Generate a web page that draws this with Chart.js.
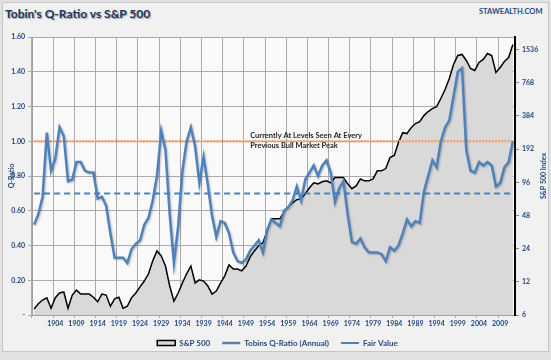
<!DOCTYPE html>
<html>
<head>
<meta charset="utf-8">
<script src="https://cdn.jsdelivr.net/npm/chart.js@4/dist/chart.umd.min.js"></script>
<style>
html, body { margin: 0; padding: 0; width: 551px; height: 360px; background: #e2e2e2; overflow: hidden; }
#frame { position: absolute; left: 2px; top: 2px; width: 545px; height: 348px; background: #f1f1f1; border: 1px solid #c6c6c6; }
#title { position: absolute; left: 5px; top: 6px; font: bold 12px Lato, sans-serif; color: #17375e; text-shadow: 1px 1px 1px rgba(0,0,0,0.35); white-space: nowrap; }
#site { position: absolute; left: 479px; top: 7px; font: bold 7.5px Lato, sans-serif; color: #1f497d; white-space: nowrap; }
#chart { position: absolute; left: 0; top: 0; }
</style>
</head>
<body>
<div id="frame"></div>
<div id="title">Tobin's Q-Ratio vs S&amp;P 500</div>
<div id="site">STAWEALTH.COM</div>
<canvas id="chart" width="551" height="360"></canvas>
<script>
// categories: one per year
var years = [];
for (var y = 1899; y <= 2012; y++) years.push(y);

// Tobin's Q (left axis)
var q_ratio = [
    0.52, 0.58, 0.68, 1.05, 0.83, 0.90, 1.08, 1.03, 0.77, 0.78,
    0.88, 0.88, 0.83, 0.82, 0.82, 0.67, 0.68, 0.63, 0.47, 0.33,
    0.33, 0.33, 0.30, 0.38, 0.41, 0.43, 0.52, 0.56, 0.66, 0.80,
    1.06, 0.95, 0.58, 0.30, 0.51, 0.83, 1.00, 1.08, 0.97, 0.76,
    0.91, 0.75, 0.57, 0.45, 0.54, 0.53, 0.47, 0.36, 0.31, 0.30,
    0.32, 0.37, 0.40, 0.43, 0.36, 0.49, 0.55, 0.53, 0.51, 0.60,
    0.62, 0.66, 0.74, 0.66, 0.78, 0.82, 0.86, 0.80, 0.86, 0.89,
    0.82, 0.65, 0.73, 0.77, 0.58, 0.42, 0.41, 0.44, 0.39, 0.36,
    0.36, 0.36, 0.35, 0.31, 0.39, 0.37, 0.40, 0.47, 0.55, 0.51,
    0.54, 0.53, 0.71, 0.80, 0.89, 0.85, 1.00, 1.08, 1.12, 1.26,
    1.40, 1.42, 0.95, 0.83, 0.82, 0.88, 0.86, 0.88, 0.86, 0.74,
    0.76, 0.85, 0.88, 1.00
];

// S&P 500 (right axis, log 2)
var sp500 = [
    6.8, 7.6, 8.2, 8.6, 6.9, 8.6, 9.5, 9.7, 6.9, 9.1,
    10.1, 9.3, 9.3, 9.3, 8.7, 7.9, 9.3, 9.1, 7.2, 8.4,
    8.7, 6.9, 7.2, 8.6, 9.5, 10.8, 12.2, 14.2, 18.6, 22.9,
    20.6, 16.7, 11.0, 8.0, 9.5, 11.7, 14.2, 16.7, 11.7, 12.5,
    12.2, 11.0, 9.3, 9.9, 11.7, 13.6, 17.1, 15.7, 15.7, 15.1,
    16.7, 20.2, 22.9, 25.5, 27.1, 34.8, 44.8, 44.8, 44.8, 51.9,
    57.6, 62.6, 66.7, 68, 75.6, 85.7, 95, 93, 97, 99,
    95, 106, 106, 106, 93, 84, 89, 103, 99, 99,
    103, 122, 122, 128, 161, 168, 220, 271, 266, 301,
    328, 341, 387, 421, 448, 467, 553, 668, 840, 1127,
    1360, 1389, 1225, 1036, 994, 1175, 1251, 1418, 1360, 953,
    1058, 1200, 1304, 1712
];

var fair_value = 0.70;
var bull_peak_level = 1.00;

var q_ticks_max = 1.6;
var sp_ticks = [6, 12, 24, 48, 96, 192, 384, 768, 1536];
var first_label_year = 1904;

var navy = '#1f497d';
var font_small = { family: 'Lato', weight: 'bold', size: 7 };

var plot_bg_plugin = {
    id: 'plot_bg',
    beforeDraw: function (chart) {
        var a = chart.chartArea, ctx = chart.ctx;
        ctx.save();
        ctx.fillStyle = '#f9f9f9';
        ctx.fillRect(a.left, a.top, a.right - a.left, a.bottom - a.top);
        ctx.restore();
    },
    beforeDatasetDraw: function (chart, args) {
        if (args.index === 3) {
            var ctx = chart.ctx;
            ctx.save();
            ctx.shadowColor = 'rgba(0,0,0,0.25)';
            ctx.shadowBlur = 2;
            ctx.shadowOffsetX = 1;
            ctx.shadowOffsetY = 1;
        }
    },
    afterDatasetDraw: function (chart, args) {
        if (args.index === 3) chart.ctx.restore();
    },
    afterDraw: function (chart) {
        var ctx = chart.ctx, a = chart.chartArea;
        var x = chart.scales.x.getPixelForValue(years.indexOf(1950));
        var y = chart.scales.y.getPixelForValue(bull_peak_level);
        ctx.save();
        ctx.font = 'bold 7.5px Lato';
        ctx.fillStyle = '#262626';
        ctx.textAlign = 'left';
        ctx.textBaseline = 'middle';
        ctx.fillText('Currently At Levels Seen At Every', x, y - 6);
        ctx.fillText('Previous Bull Market Peak', x, y + 4);
        // right axis title, read bottom to top
        ctx.translate(544, (a.top + a.bottom) / 2);
        ctx.rotate(-Math.PI / 2);
        ctx.textAlign = 'center';
        ctx.fillStyle = navy;
        ctx.font = 'bold 7px Lato';
        ctx.fillText('S&P 500 Index', 0, 0);
        ctx.restore();
    }
};

new Chart(document.getElementById('chart'), {
    type: 'line',
    data: {
        labels: years,
        datasets: [{
            label: 'S&P 500',
            data: sp500,
            yAxisID: 'y1',
            borderColor: '#000',
            borderWidth: 1.5,
            backgroundColor: '#d9d9d9',
            fill: 'start',
            pointRadius: 0,
            pointStyle: 'rect',
            order: 4
        }, {
            label: '',
            data: years.map(function () { return bull_peak_level; }),
            yAxisID: 'y',
            borderColor: '#efa46c',
            borderWidth: 2.5,
            borderDash: [2, 1.2],
            pointRadius: 0,
            fill: false,
            order: 3
        }, {
            label: 'Fair Value',
            data: years.map(function () { return fair_value; }),
            yAxisID: 'y',
            borderColor: '#4f81bd',
            backgroundColor: '#4f81bd',
            borderWidth: 2,
            borderDash: [6, 4],
            pointRadius: 0,
            pointStyle: 'line',
            fill: false,
            order: 2
        }, {
            label: 'Tobins Q-Ratio (Annual)',
            data: q_ratio,
            yAxisID: 'y',
            borderColor: '#4f81bd',
            backgroundColor: '#4f81bd',
            borderWidth: 2.5,
            pointRadius: 0,
            pointStyle: 'line',
            fill: false,
            order: 1
        }]
    },
    options: {
        responsive: false,
        animation: false,
        devicePixelRatio: 1,
        layout: { padding: { left: 8, right: 4, top: 37, bottom: 3 } },
        plugins: {
            tooltip: { enabled: false },
            legend: {
                position: 'bottom',
                labels: {
                    usePointStyle: true,
                    pointStyleWidth: 18,
                    boxHeight: 5,
                    padding: 12,
                    color: navy,
                    font: { family: 'Lato', weight: 'bold', size: 8 },
                    filter: function (item) { return item.text !== ''; },
                    sort: function (a, b) {
                        var ord = { 'S&P 500': 0, 'Tobins Q-Ratio (Annual)': 1, 'Fair Value': 2 };
                        return ord[a.text] - ord[b.text];
                    }
                }
            }
        },
        scales: {
            x: {
                type: 'category',
                offset: true,
                grid: {
                    offset: true,
                    color: function (c) {
                        var yr = years[c.index];
                        return (yr !== undefined && (yr - first_label_year) % 5 === 0) ? '#aaaaaa' : 'rgba(0,0,0,0)';
                    },
                    tickLength: 3
                },
                border: { color: '#a0a0a0' },
                ticks: {
                    autoSkip: false,
                    maxRotation: 0,
                    padding: 2,
                    color: navy,
                    font: font_small,
                    callback: function (v, i) {
                        var yr = years[i];
                        return (yr - first_label_year) % 5 === 0 && yr >= first_label_year ? String(yr) : '';
                    }
                },
                afterFit: function (s) { s.height = 12; }
            },
            y: {
                position: 'left',
                min: 0,
                max: q_ticks_max,
                grid: { color: '#aaaaaa', tickLength: 4 },
                border: { color: '#a0a0a0' },
                ticks: {
                    stepSize: 0.2,
                    padding: 3,
                    color: navy,
                    font: font_small,
                    callback: function (v) { return Math.abs(v) < 1e-9 ? '-' : v.toFixed(2); }
                },
                title: { display: true, text: 'Q-Ratio', color: navy, font: font_small, padding: 0 },
                afterFit: function (s) { s.width = 24; }
            },
            y1: {
                type: 'logarithmic',
                position: 'right',
                min: 6,
                max: 2000,
                grid: { drawOnChartArea: false, color: '#888', tickLength: 4 },
                border: { color: '#000', width: 2 },
                afterBuildTicks: function (s) {
                    s.ticks = sp_ticks.map(function (v) { return { value: v }; });
                },
                ticks: {
                    padding: 3,
                    color: navy,
                    font: font_small,
                    callback: function (v) { return String(v); }
                },
                afterFit: function (s) { s.width = 32; }
            }
        }
    },
    plugins: [plot_bg_plugin]
});
</script>
</body>
</html>
